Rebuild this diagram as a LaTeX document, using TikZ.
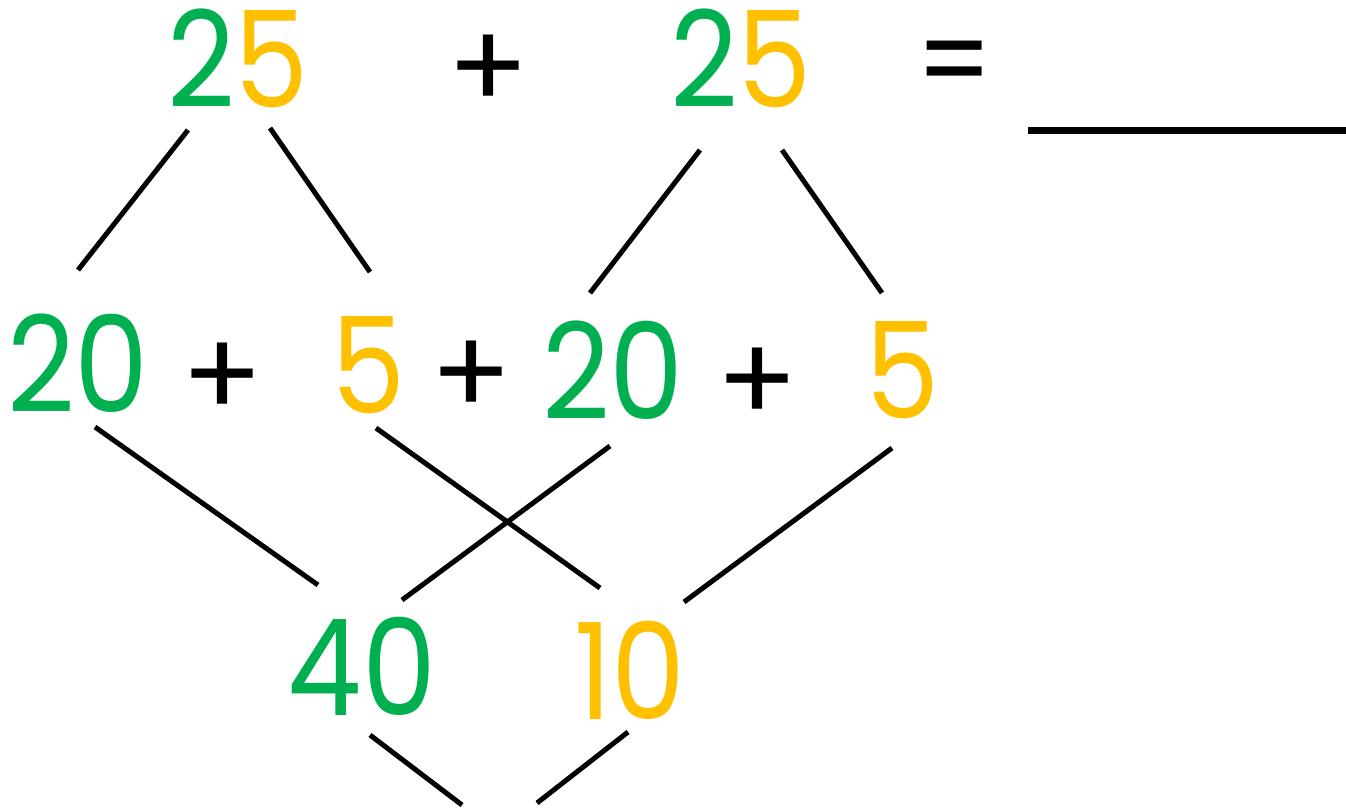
\documentclass[tikz,border=0pt]{standalone}
\usepackage{fontspec}
\setmainfont{Poppins}
\usetikzlibrary{positioning}
\definecolor{tens}{HTML}{00B050}
\definecolor{ones}{HTML}{FFC000}
\definecolor{ink}{HTML}{000000}
\newcommand{\slim}[1]{\scalebox{0.88}[1]{#1}}

\begin{document}
\begin{tikzpicture}[
  x=1pt, y=-1pt, ink,
  num/.style={inner sep=0pt, font=\fontsize{134}{134}\selectfont},
  op/.style={inner sep=0pt, font=\fontsize{120}{120}\selectfont, text=ink},
  link/.style={draw=ink, line width=5pt},
]
\useasboundingbox (0,0) rectangle (1346,808);

% ---- the sum ---------------------------------------------------------------
\node[num] (topA) at (238,58) {\slim{\textcolor{tens}{2}\textcolor{ones}{5}}};
\node[op]  (plusT) at (488,72) {+};
\node[num] (topB) at (741,58) {\slim{\textcolor{tens}{2}\textcolor{ones}{5}}};
\node[op]  (eq) at (955,72) {\slim{=}};
\coordinate (ansL) at (1028,130);
\coordinate (ansR) at (1346,130);
\draw[draw=ink, line width=7pt] (ansL) -- (ansR);

% ---- split into tens and ones ---------------------------------------------
\node[num, text=tens] (tenA) at (78,363) {\slim{20}};
\node[op]  (plusA) at (222,380) {+};
\node[num, text=ones] (oneA) at (369,365) {\slim{5}};
\node[op]  (plusM) at (471,378) {+};
\node[num, text=tens] (tenB) at (613,370) {\slim{20}};
\node[op]  (plusB) at (757,385) {+};
\node[num, text=ones] (oneB) at (903,370) {\slim{5}};

\coordinate (a1) at (188,130); \coordinate (a2) at (78,270);
\coordinate (a3) at (270,128); \coordinate (a4) at (370,272);
\coordinate (b1) at (700,150); \coordinate (b2) at (590,293);
\coordinate (b3) at (782,150); \coordinate (b4) at (882,293);
\draw[link] (a1) -- (a2);
\draw[link] (a3) -- (a4);
\draw[link] (b1) -- (b2);
\draw[link] (b3) -- (b4);

% ---- tens together, ones together -----------------------------------------
\node[num, text=tens] (tens) at (362,666) {\slim{40}};
\node[num, text=ones] (ones) at (630,670) {\slim{10}};

\coordinate (c1) at (95,427);  \coordinate (c2) at (318,585);
\coordinate (c3) at (376,428); \coordinate (c4) at (600,588);
\coordinate (c5) at (610,446); \coordinate (c6) at (402,600);
\coordinate (c7) at (892,448); \coordinate (c8) at (684,602);
\draw[link] (c1) -- (c2);
\draw[link] (c3) -- (c4);
\draw[link] (c5) -- (c6);
\draw[link] (c7) -- (c8);

\coordinate (d1) at (370,735); \coordinate (d2) at (462,805);
\coordinate (d3) at (628,732); \coordinate (d4) at (537,803);
\draw[link] (d1) -- (d2);
\draw[link] (d3) -- (d4);

\end{tikzpicture}
\end{document}
